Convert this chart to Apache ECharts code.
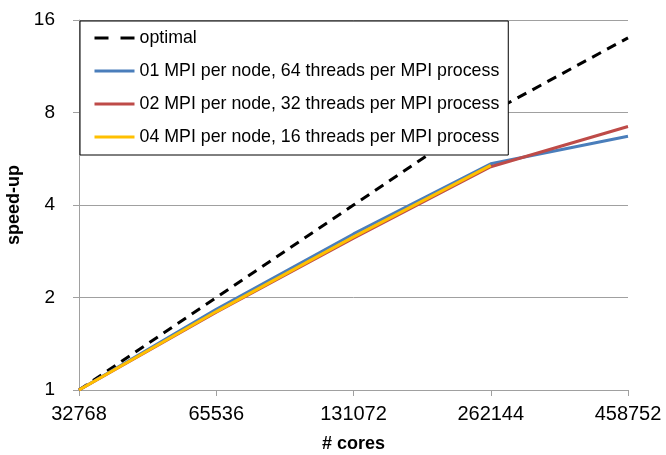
<!DOCTYPE html>
<html>
<head>
<meta charset="utf-8">
<script src="https://cdn.jsdelivr.net/npm/echarts@6/dist/echarts.min.js"></script>
<style>html,body{margin:0;padding:0;background:#fff}#c{width:666px;height:455px}</style>
</head>
<body>
<div id="c"></div>
<script>
var categories = ['32768', '65536', '131072', '262144', '458752'];
var optimal = [1, 2, 4, 8, 14];
var mpi01 = [1, 1.83, 3.22, 5.45, 6.7];
var mpi02 = [1, 1.79, 3.12, 5.33, 7.2];
var mpi04 = [1, 1.8, 3.15, 5.38, null];
var seriesNames = ['optimal', '01 MPI per node, 64 threads per MPI process', '02 MPI per node, 32 threads per MPI process', '04 MPI per node, 16 threads per MPI process'];
var yTicks = [1, 2, 4, 8, 16];

var FONT = 'Liberation Sans';
var chart = echarts.init(document.getElementById('c'), null, {renderer: 'canvas'});
function mk(name, data, color, dashed) {
  return {
    name: name, type: 'line', data: data, symbol: 'none', connectNulls: false,
    lineStyle: {color: color, width: 3, type: dashed ? [10, 7] : 'solid', cap: 'butt'},
    itemStyle: {color: color},
    emphasis: {disabled: true}, animation: false
  };
}
var legendData = seriesNames.map(function (n, i) {
  return i === 0 ? {name: n, lineStyle: {type: [14, 12]}} : {name: n};
});
chart.setOption({
  animation: false,
  grid: {left: 79, right: 38, top: 20, bottom: 65, containLabel: false, outerBoundsMode: 'none'},
  legend: {
    orient: 'vertical', left: 80, top: 21,
    data: legendData,
    itemWidth: 40, itemHeight: 14, itemGap: 15,
    padding: [8, 9, 9, 13],
    backgroundColor: '#fff', borderColor: '#000', borderWidth: 1,
    itemStyle: {opacity: 0},
    lineStyle: {width: 3},
    textStyle: {fontFamily: FONT, fontSize: 17.8, color: '#000'},
    selectedMode: false
  },
  xAxis: {
    type: 'category', data: categories, boundaryGap: false,
    axisLine: {lineStyle: {color: '#a0a0a0', width: 1}},
    axisTick: {show: true, alignWithLabel: true, length: 6, lineStyle: {color: '#a0a0a0'}},
    axisLabel: {fontFamily: FONT, fontSize: 20, color: '#000', margin: 14},
    splitLine: {show: false},
    name: '# cores', nameLocation: 'middle', nameGap: 45,
    nameTextStyle: {fontFamily: FONT, fontSize: 18, fontWeight: 'bold', color: '#000'}
  },
  yAxis: {
    type: 'log', logBase: 2, min: 1, max: 16,
    axisLine: {show: true, lineStyle: {color: '#a0a0a0', width: 1}},
    axisTick: {show: true, length: 6, lineStyle: {color: '#a0a0a0'}},
    axisLabel: {fontFamily: FONT, fontSize: 19, color: '#000', margin: 24,
      formatter: function (v) { return yTicks.indexOf(Math.round(v)) >= 0 ? String(Math.round(v)) : ''; }},
    splitLine: {show: true, lineStyle: {color: '#a0a0a0', width: 1}},
    name: 'speed-up', nameLocation: 'middle', nameGap: 54, nameRotate: 90,
    nameTextStyle: {fontFamily: FONT, fontSize: 18, fontWeight: 'bold', color: '#000'}
  },
  series: [
    mk(seriesNames[0], optimal, '#000000', true),
    mk(seriesNames[1], mpi01, '#4a7ebb', false),
    mk(seriesNames[2], mpi02, '#be4b48', false),
    mk(seriesNames[3], mpi04, '#ffc000', false)
  ]
});
</script>
</body>
</html>
